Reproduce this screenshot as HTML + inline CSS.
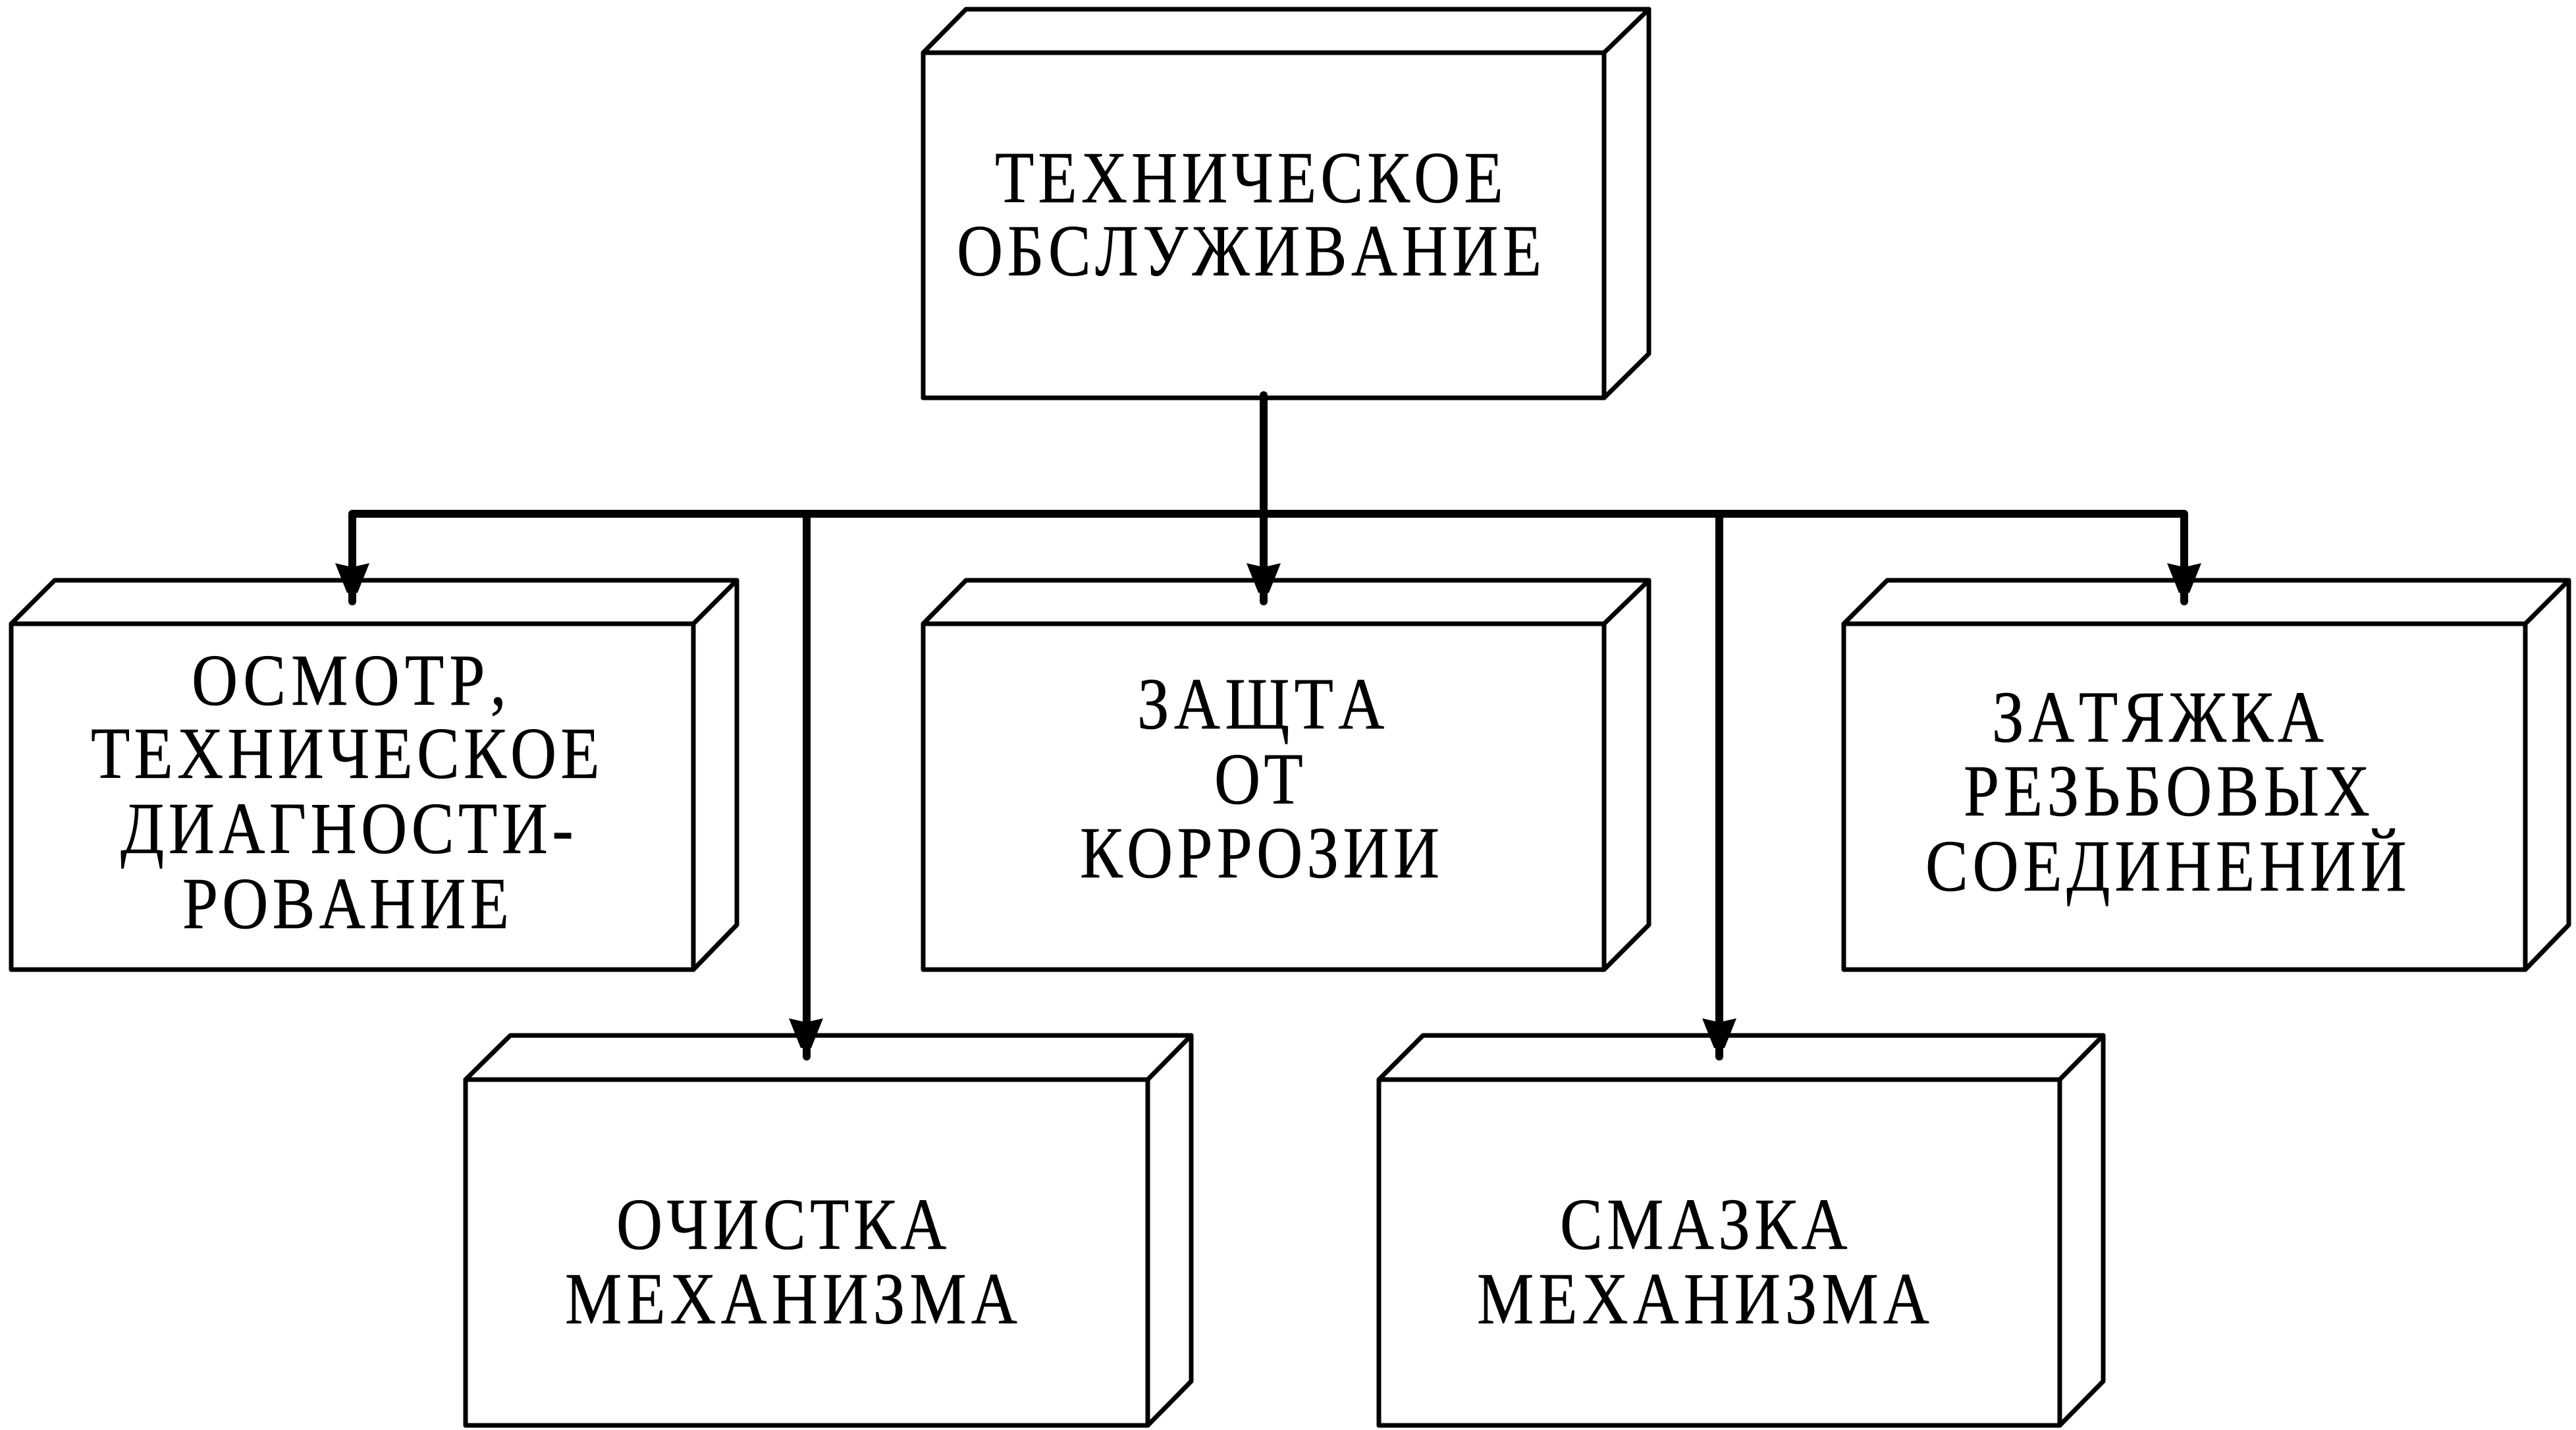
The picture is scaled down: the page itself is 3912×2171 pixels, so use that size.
<!DOCTYPE html>
<html lang="ru">
<head>
<meta charset="utf-8">
<title>Техническое обслуживание</title>
<style>
html,body{margin:0;padding:0;background:#fff;width:3912px;height:2171px;overflow:hidden}
svg{display:block}
text{font-family:"Liberation Serif","DejaVu Serif",serif;font-size:111px;fill:#000;stroke:#000;stroke-width:.6;font-kerning:none}
.b polygon,.b path{fill:#fff;stroke:#000;stroke-width:7;stroke-linejoin:round;stroke-linecap:round}
.b path{fill:none}
.w{fill:none;stroke:#000;stroke-width:12;stroke-linecap:round;stroke-linejoin:round}
</style>
</head>
<body>
<svg xmlns="http://www.w3.org/2000/svg" width="3912" height="2171" viewBox="0 0 3912 2171">
<rect width="3912" height="2171" fill="#fff"/>

<g class="b">
<polygon points="1402,80 1467,14 2504,14 2504,537 2436,604 1402,604"/>
<path d="M1402,80H2436V604M2436,80L2504,14"/>
<polygon points="17,947 83,881 1119,881 1119,1404 1053,1472 17,1472"/>
<path d="M17,947H1053V1472M1053,947L1119,881"/>
<polygon points="1402,947 1467,881 2504,881 2504,1404 2436,1472 1402,1472"/>
<path d="M1402,947H2436V1472M2436,947L2504,881"/>
<polygon points="2800,947 2866,881 3901,881 3901,1404 3835,1472 2800,1472"/>
<path d="M2800,947H3835V1472M3835,947L3901,881"/>
<polygon points="707,1639 775,1572 1809,1572 1809,2097 1743,2164 707,2164"/>
<path d="M707,1639H1743V2164M1743,1639L1809,1572"/>
<polygon points="2094,1639 2161,1572 3194,1572 3194,2097 3128,2164 2094,2164"/>
<path d="M2094,1639H3128V2164M3128,1639L3194,1572"/>
</g>

<path class="w" d="M1919,600V913"/>
<path class="w" d="M535,913V780H3317V913"/>
<path class="w" d="M1225,780V1604"/>
<path class="w" d="M2611,780V1604"/>

<g fill="#000">
<polygon points="509,855 535,861 561,855 543,900 527,900"/>
<polygon points="1893,855 1919,861 1945,855 1927,900 1911,900"/>
<polygon points="3291,855 3317,861 3343,855 3325,900 3309,900"/>
<polygon points="1198,1546 1224,1552 1250,1546 1232,1591 1216,1591"/>
<polygon points="2585,1546 2611,1552 2637,1546 2619,1591 2603,1591"/>
</g>

<text transform="translate(1511 307) scale(.875 1)" textLength="882">ТЕХНИЧЕСКОЕ</text>
<text transform="translate(1453 418) scale(.875 1)" textLength="1015">ОБСЛУЖИВАНИЕ</text>

<text transform="translate(291 1070) scale(.875 1)" textLength="546">ОСМОТР,</text>
<text transform="translate(138 1181) scale(.875 1)" textLength="883">ТЕХНИЧЕСКОЕ</text>
<text transform="translate(183 1295) scale(.875 1)" textLength="786">ДИАГНОСТИ-</text>
<text transform="translate(277 1409) scale(.875 1)" textLength="567">РОВАНИЕ</text>

<text transform="translate(1727 1106) scale(.875 1)" textLength="429">ЗАЩТА</text>
<text transform="translate(1844 1220) scale(.875 1)" textLength="154">ОТ</text>
<text transform="translate(1640 1332) scale(.875 1)" textLength="624">КОРРОЗИИ</text>

<text transform="translate(3025 1126) scale(.875 1)" textLength="576">ЗАТЯЖКА</text>
<text transform="translate(2982 1238) scale(.875 1)" textLength="705">РЕЗЬБОВЫХ</text>
<text transform="translate(2924 1352) scale(.875 1)" textLength="835">СОЕДИНЕНИЙ</text>

<text transform="translate(936 1896) scale(.875 1)" textLength="573">ОЧИСТКА</text>
<text transform="translate(858 2009) scale(.875 1)" textLength="785">МЕХАНИЗМА</text>

<text transform="translate(2369 1896) scale(.875 1)" textLength="499">СМАЗКА</text>
<text transform="translate(2243 2009) scale(.875 1)" textLength="785">МЕХАНИЗМА</text>
</svg>
</body>
</html>
